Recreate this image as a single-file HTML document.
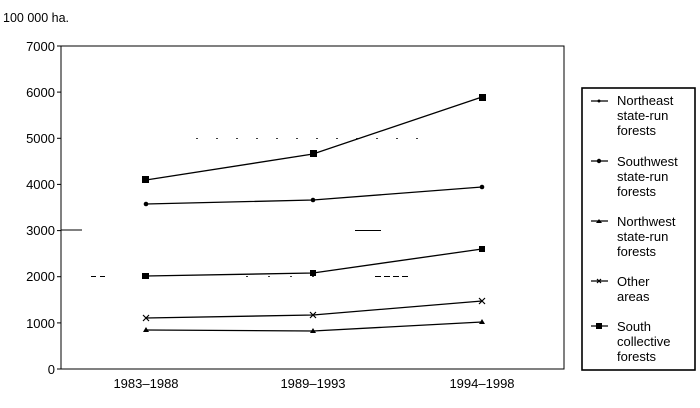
<!DOCTYPE html>
<html><head><style>
body{margin:0;background:#fff;width:700px;height:408px;overflow:hidden}
svg{display:block}
text{font-family:"Liberation Sans",Arial,sans-serif;fill:#000}
</style></head><body>
<svg width="700" height="408" viewBox="0 0 700 408">
<text x="3" y="22" font-size="12.5">100 000 ha.</text>
<g stroke="#000" fill="none" stroke-width="1">
<rect x="61" y="46" width="503" height="323"/>
<line x1="57" y1="369" x2="61" y2="369"/>
<line x1="57" y1="322.9" x2="61" y2="322.9"/>
<line x1="57" y1="276.7" x2="61" y2="276.7"/>
<line x1="57" y1="230.6" x2="61" y2="230.6"/>
<line x1="57" y1="184.4" x2="61" y2="184.4"/>
<line x1="57" y1="138.3" x2="61" y2="138.3"/>
<line x1="57" y1="92.1" x2="61" y2="92.1"/>
<line x1="57" y1="46" x2="61" y2="46"/>
<line x1="61" y1="230" x2="82" y2="230"/>
<line x1="91" y1="276.5" x2="109" y2="276.5" stroke-dasharray="5,4"/>
<line x1="355" y1="230.5" x2="381" y2="230.5"/>
<line x1="375" y1="276.5" x2="408" y2="276.5" stroke-dasharray="6,3"/>
<line x1="196" y1="138.5" x2="430" y2="138.5" stroke-dasharray="2,18" stroke-width="0.8"/>
<line x1="246" y1="276.5" x2="330" y2="276.5" stroke-dasharray="2,20" stroke-width="0.8"/>
<rect x="582" y="88" width="113" height="282" stroke-width="1.6"/>
<g stroke-width="1.3">
<polyline points="146,180 313,154 482,97"/>
<polyline points="146,204 313,200 482,187"/>
<polyline points="146,276 313,273 482,249"/>
<polyline points="146,318 313,315 482,301"/>
<polyline points="146,330 313,331 482,322"/>
<line x1="591" y1="101" x2="608" y2="101"/>
<line x1="591" y1="161" x2="608" y2="161"/>
<line x1="591" y1="221" x2="608" y2="221"/>
<line x1="591" y1="281" x2="608" y2="281"/>
<line x1="591" y1="326" x2="608" y2="326"/>
</g>
</g>
<g fill="#000">
<rect x="142" y="176" width="7" height="7"/><rect x="310" y="150" width="7" height="7"/><rect x="479" y="94" width="7" height="7"/>
<rect x="142" y="273" width="7" height="6"/><rect x="310" y="270" width="6" height="6"/><rect x="479" y="246" width="6" height="6"/>
<circle cx="146" cy="204" r="2.3"/><circle cx="313" cy="200" r="2.3"/><circle cx="482" cy="187" r="2.3"/>
<path d="M143 332h6l-3-5z M310 333h6l-3-5z M479 324h6l-3-5z"/>
<rect x="596" y="323" width="6" height="6"/>
<circle cx="599" cy="161" r="2.2"/>
<circle cx="599" cy="101" r="1.5"/>
<path d="M596 223h6l-3-4z"/>
</g>
<g stroke="#000" stroke-width="1.2">
<path d="M143 315l6 6M149 315l-6 6 M310 312l6 6M316 312l-6 6 M479 298l6 6M485 298l-6 6 M597 279l4 4M601 279l-4 4"/>
</g>
<g font-size="13" text-anchor="end">
<text x="55" y="51">7000</text><text x="55" y="97">6000</text><text x="55" y="143">5000</text>
<text x="55" y="189">4000</text><text x="55" y="235">3000</text><text x="55" y="281">2000</text>
<text x="55" y="328">1000</text><text x="55" y="374">0</text>
</g>
<g font-size="13" text-anchor="middle">
<text x="146" y="388">1983–1988</text><text x="313" y="388">1989–1993</text><text x="482" y="388">1994–1998</text>
</g>
<g font-size="13">
<text x="617" y="105">Northeast</text><text x="617" y="120">state-run</text><text x="617" y="135">forests</text>
<text x="617" y="166">Southwest</text><text x="617" y="181">state-run</text><text x="617" y="196">forests</text>
<text x="617" y="226">Northwest</text><text x="617" y="241">state-run</text><text x="617" y="256">forests</text>
<text x="617" y="286">Other</text><text x="617" y="301">areas</text>
<text x="617" y="331">South</text><text x="617" y="346">collective</text><text x="617" y="361">forests</text>
</g>
</svg>
</body></html>
